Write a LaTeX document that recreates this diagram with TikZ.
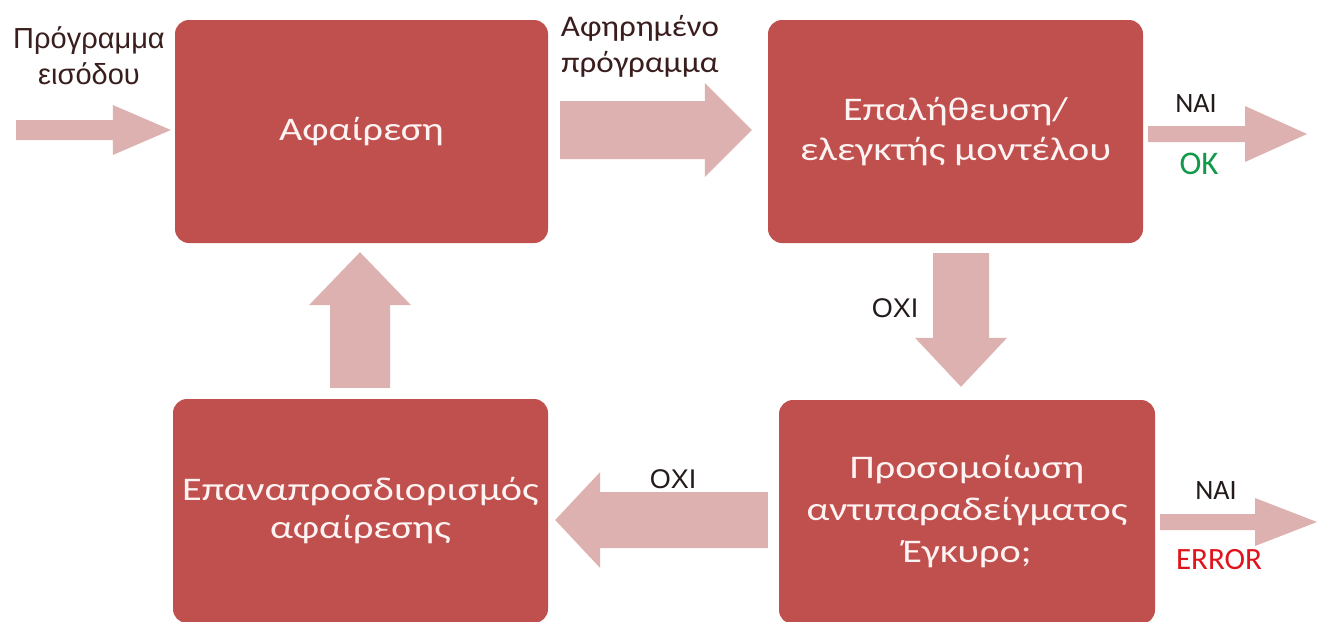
\documentclass[tikz,border=0pt]{standalone}
\usepackage{fontspec}
\setmainfont{Carlito}
\newfontfamily\boxfont{Carlito}[FakeStretch=1.22]
\newfontfamily\wideCarlito{Carlito}[FakeStretch=1.1]
\newfontfamily\arialfont{Liberation Sans}
\usetikzlibrary{calc}

\definecolor{boxred}{HTML}{C0504D}
\definecolor{arrowpink}{HTML}{DDB1B0}
\definecolor{labeldark}{HTML}{3A1E1E}
\definecolor{textdark}{HTML}{231A1A}
\definecolor{okgreen}{HTML}{119A4A}
\definecolor{errred}{HTML}{E0141B}
\definecolor{boxtext}{HTML}{FDF3F3}

% block arrow: #1 tail, #2 tip, #3 shaft half-width, #4 head half-width, #5 head length
\newcommand{\fatarrow}[5]{%
  \coordinate (fa-head) at ($(#2)!#5pt!(#1)$);
  \fill[arrowpink]
    ($(#1)!#3pt!90:(#2)$) -- ($(fa-head)!#3pt!90:(#2)$) --
    ($(fa-head)!#4pt!90:(#2)$) -- (#2) --
    ($(fa-head)!#4pt!-90:(#2)$) -- ($(fa-head)!#3pt!-90:(#2)$) --
    ($(#1)!#3pt!-90:(#2)$) -- cycle;}

\begin{document}
\begin{tikzpicture}[x=1pt,y=-1pt,
  box/.style={fill=boxred, rounded corners=14pt, text=boxtext, align=center,
    inner sep=0pt, font=\boxfont\fontsize{33}{40}\selectfont},
  sidelabel/.style={text=labeldark, align=center, inner sep=0pt},
  answer/.style={text=textdark, inner sep=0pt, font=\fontsize{28}{32}\selectfont},
  nolabel/.style={text=textdark, inner sep=0pt, font=\arialfont\fontsize{27}{30}\selectfont}]

\useasboundingbox (0,0) rectangle (1324,621);
\fill[white] (0,0) rectangle (1324,621);
\clip (0,0) rectangle (1324,621);

% processing steps
\node[box, minimum width=373pt, minimum height=223pt] (abs) at (361.5,131.5) {Αφαίρεση};
\node[box, minimum width=375pt, minimum height=223pt] (mc) at (955.5,131.5) {Επαλήθευση/\\ελεγκτής μοντέλου};
\node[box, minimum width=376pt, minimum height=224pt, font=\boxfont\fontsize{33}{42}\selectfont] (sim) at (967,512) {Προσομοίωση\\αντιπαραδείγματος\\Έγκυρο;};
\node[box, minimum width=375pt, minimum height=224pt, font=\boxfont\fontsize{33}{38}\selectfont] (ref) at (360.5,511) {Επαναπροσδιορισμός\\αφαίρεσης};

% arrow end points
\coordinate (in0) at (16,130);
\coordinate (in1) at ($(abs.west)+(-4,-1.5)$);
\coordinate (m0) at ($(abs.east)+(12,-1.5)$);
\coordinate (m1) at ($(mc.west)+(-16,-1.5)$);
\coordinate (ok0) at ($(mc.east)+(5,2.5)$);
\coordinate (ok1) at (1307,134);
\coordinate (d0) at ($(mc.south)+(5.5,10)$);
\coordinate (d1) at ($(sim.north)+(-6,-13)$);
\coordinate (l0) at ($(sim.west)+(-11,8)$);
\coordinate (l1) at ($(ref.east)+(7,9)$);
\coordinate (u0) at ($(ref.north)+(-0.5,-11)$);
\coordinate (u1) at ($(abs.south)+(-1.5,9)$);
\coordinate (e0) at ($(sim.east)+(5,10)$);
\coordinate (e1) at (1317,522);

% connectors
\fatarrow{in0}{in1}{10}{25}{58}
\fatarrow{m0}{m1}{29}{47}{47}
\fatarrow{ok0}{ok1}{8}{28}{62}
\fatarrow{d0}{d1}{28}{46}{49}
\fatarrow{l0}{l1}{28}{48}{45}
\fatarrow{u0}{u1}{30}{51}{53}
\fatarrow{e0}{e1}{8}{24}{62}

% labels
\node[sidelabel, font=\arialfont\fontsize{29}{36}\selectfont] (inlab) at (89,56) {Πρόγραμμα\\εισόδου};
\node[sidelabel, font=\wideCarlito\fontsize{30}{36}\selectfont] (mlab) at (640,46) {Αφηρημένο\\πρόγραμμα};
\node[answer] (yes1) at (1196,104) {ΝΑΙ};
\node[answer, text=okgreen, font=\fontsize{33}{36}\selectfont] (okl) at (1199,164) {OK};
\node[nolabel] (no1) at (895,308) {ΟΧΙ};
\node[nolabel] (no2) at (673,479) {ΟΧΙ};
\node[answer] (yes2) at (1216,491) {ΝΑΙ};
\node[answer, text=errred, font=\fontsize{31}{34}\selectfont] (errl) at (1219,560) {ERROR};
\end{tikzpicture}
\end{document}
